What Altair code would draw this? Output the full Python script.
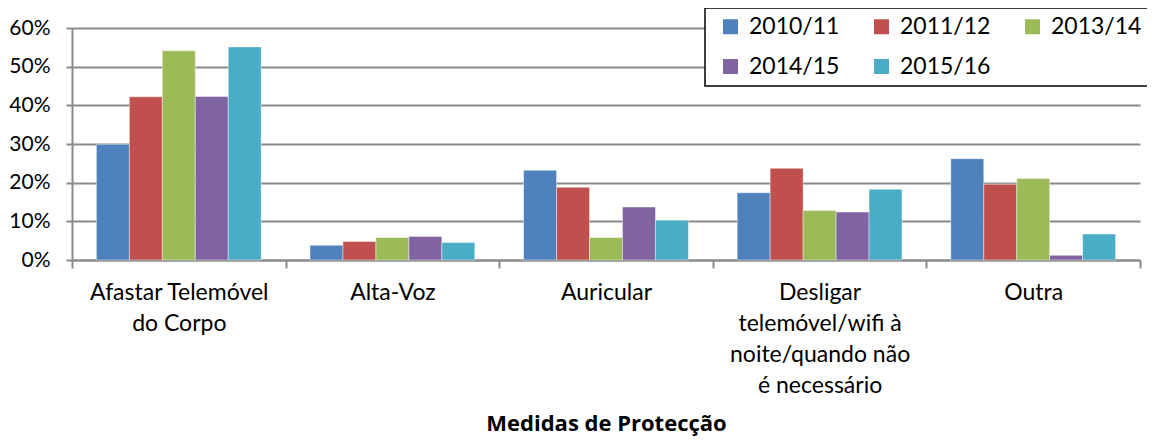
import altair as alt
import pandas as pd

categories = [
    "Afastar Telemóvel|do Corpo",
    "Alta-Voz",
    "Auricular",
    "Desligar|telemóvel/wifi à|noite/quando não|é necessário",
    "Outra",
]
series = ["2010/11", "2011/12", "2013/14", "2014/15", "2015/16"]
values = {
    "2010/11": [0.299, 0.038, 0.232, 0.174, 0.262],
    "2011/12": [0.422, 0.048, 0.188, 0.237, 0.196],
    "2013/14": [0.541, 0.058, 0.058, 0.128, 0.211],
    "2014/15": [0.423, 0.061, 0.137, 0.124, 0.012],
    "2015/16": [0.551, 0.045, 0.103, 0.183, 0.067],
}
colors = ["#4F81BD", "#C0504D", "#9BBB59", "#8064A2", "#4BACC6"]

rows = []
for s in series:
    for c, v in zip(categories, values[s]):
        rows.append({"Medida": c, "Ano": s, "Valor": v})
df = pd.DataFrame(rows)

FONT = "Lato"
GRID = "#8a8a8a"

chart = (
    alt.Chart(df)
    .mark_bar(stroke="white", strokeWidth=0.6, strokeOpacity=0.7)
    .encode(
        x=alt.X(
            "Medida:N",
            sort=categories,
            scale=alt.Scale(paddingInner=0, paddingOuter=0),
            axis=alt.Axis(
                title="Medidas de Protecção",
                titleFont="Open Sans",
                titleFontSize=22,
                titleFontWeight="bold",
                titleColor="black",
                titleY=170,
                titleX=534,
                titleBaseline="alphabetic",
                labelExpr="split(datum.label, '|')",
                labelAngle=0,
                labelFont=FONT,
                labelFontSize=23,
                labelColor="black",
                labelLineHeight=31,
                labelPadding=13,
                labelLimit=400,
                tickBand="extent",
                tickSize=8,
                tickColor=GRID,
                tickWidth=2,
                domainColor=GRID,
                domainWidth=2,
                grid=False,
            ),
        ),
        xOffset=alt.XOffset(
            "Ano:N", sort=series, scale=alt.Scale(paddingOuter=0.74, paddingInner=0)
        ),
        y=alt.Y(
            "Valor:Q",
            scale=alt.Scale(domain=[0, 0.6], nice=False),
            axis=alt.Axis(
                title=None,
                format=".0%",
                values=[0, 0.1, 0.2, 0.3, 0.4, 0.5, 0.6],
                labelFont=FONT,
                labelFontSize=21,
                labelColor="black",
                labelPadding=16,
                tickSize=6,
                tickColor=GRID,
                tickWidth=2,
                domainColor=GRID,
                domainWidth=2,
                gridColor=GRID,
                gridWidth=2,
            ),
        ),
        color=alt.Color(
            "Ano:N",
            sort=series,
            scale=alt.Scale(domain=series, range=colors),
            legend=alt.Legend(
                title=" ",
                titleOrient="left",
                titleFontSize=4,
                titlePadding=7,
                orient="none",
                legendX=633,
                legendY=-20,
                direction="horizontal",
                columns=3,
                gridAlign="all",
                columnPadding=30,
                rowPadding=16,
                symbolType="square",
                symbolSize=225,
                symbolStrokeWidth=0,
                symbolOpacity=1,
                labelFont=FONT,
                labelFontSize=23,
                labelColor="black",
                labelOffset=7,
                padding=7,
                fillColor="white",
                strokeColor="black",
            ),
        ),
    )
    .properties(
        width=1068,
        height=232,
        autosize=alt.AutoSizeParams(type="none"),
        padding={"left": 64, "top": 20, "right": 7, "bottom": 177},
    )
    .configure_view(stroke=None)
    .configure_legend(strokeWidth=1.5)
)

chart.save("out.html", embed_options={"renderer": "svg", "actions": False})
